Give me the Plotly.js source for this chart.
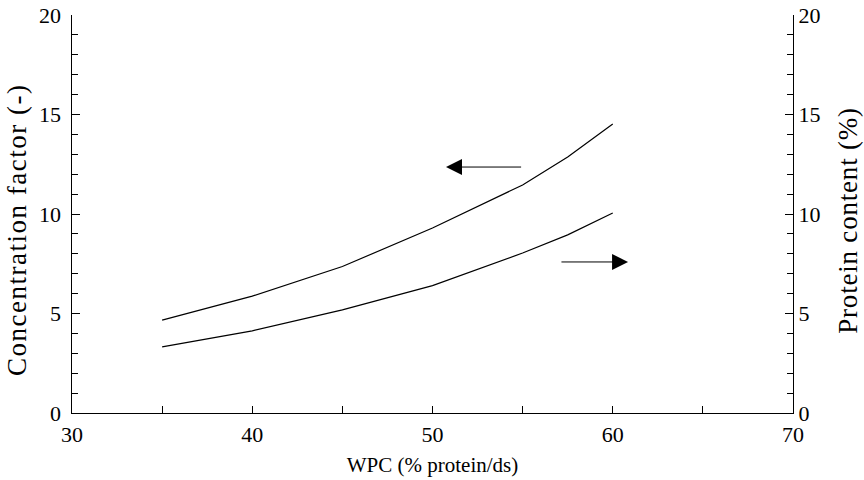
<!DOCTYPE html>
<html>
<head>
<meta charset="utf-8">
<script src="https://cdn.plot.ly/plotly-3.0.1.min.js"></script>
<style>
html,body{margin:0;padding:0;background:#fff;}
#chart{width:864px;height:480px;}
.annotation-text.ytitle-left{letter-spacing:1.5px;}
</style>
</head>
<body>
<div id="chart"></div>
<script>
// Data
const wpc = [35, 40, 45, 50, 55, 57.5, 60];               // WPC (% protein/ds)
const concentrationFactor = [4.67, 5.87, 7.36, 9.3, 11.46, 12.86, 14.52]; // left axis
const proteinContent = [3.32, 4.13, 5.18, 6.4, 8.04, 8.95, 10.05];        // right axis

// Arrow annotations (tail -> head), in data units
const arrowLeft = {tailX: 55, headX: 50.75, y: 12.36};
const arrowRight = {tailX: 57.07, headX: 60.85, y: 7.59};

const xTitle = "WPC (% protein/ds)";
const yTitle = "Concentration factor (-)";
const y2Title = "Protein content (%)";

const font = "Liberation Serif, Times New Roman, serif";

const traces = [
  {x: wpc, y: concentrationFactor, type: "scatter", mode: "lines",
   line: {color: "#000", width: 1.2}, yaxis: "y", showlegend: false, hoverinfo: "skip"},
  {x: wpc, y: proteinContent, type: "scatter", mode: "lines",
   line: {color: "#000", width: 1.2}, yaxis: "y2", showlegend: false, hoverinfo: "skip"}
];

function arrow(a) {
  return {x: a.headX, y: a.y, ax: a.tailX, ay: a.y, xref: "x", yref: "y",
    axref: "x", ayref: "y", text: "", showarrow: true, arrowhead: 2,
    arrowsize: 3.2, arrowwidth: 1, arrowcolor: "#000"};
}

const layout = {
  width: 864, height: 480,
  margin: {l: 72, r: 71, t: 15, b: 67},
  paper_bgcolor: "#fff", plot_bgcolor: "#fff",
  font: {family: font, color: "#000", size: 22},
  xaxis: {
    range: [30, 70], dtick: 10, tick0: 30,
    ticks: "inside", ticklen: 7, tickcolor: "#000", tickwidth: 1,
    minor: {dtick: 5, ticks: "inside", ticklen: 7, tickcolor: "#000"},
    showline: true, linecolor: "#000", linewidth: 1,
    showgrid: false, zeroline: false,
    tickfont: {family: font, size: 22}, ticklabelstandoff: 2,
    title: {text: xTitle, font: {family: font, size: 21}, standoff: 10}
  },
  yaxis: {
    range: [0, 20], dtick: 5, tick0: 0,
    ticks: "inside", ticklen: 8, tickcolor: "#000", tickwidth: 1,
    minor: {dtick: 1, ticks: "inside", ticklen: 6, tickcolor: "#000"},
    showline: true, linecolor: "#000", linewidth: 1,
    showgrid: false, zeroline: false,
    tickfont: {family: font, size: 22}, ticksuffix: "\u00a0"
  },
  yaxis2: {
    range: [0, 20], dtick: 5, tick0: 0, overlaying: "y", side: "right",
    ticks: "inside", ticklen: 8, tickcolor: "#000", tickwidth: 1,
    minor: {dtick: 1, ticks: "inside", ticklen: 6, tickcolor: "#000"},
    showline: true, linecolor: "#000", linewidth: 1,
    showgrid: false, zeroline: false,
    tickfont: {family: font, size: 22}
  },
  annotations: [
    arrow(arrowLeft), arrow(arrowRight),
    {text: yTitle, textangle: -90, xref: "paper", yref: "paper",
     x: -0.0763, y: 0.46, xanchor: "center", yanchor: "middle", showarrow: false,
     font: {family: font, size: 27}},
    {text: y2Title, textangle: -90, xref: "paper", yref: "paper",
     x: 1.0763, y: 0.482, xanchor: "center", yanchor: "middle", showarrow: false,
     font: {family: font, size: 27}}
  ]
};

Plotly.newPlot("chart", traces, layout, {staticPlot: true, displayModeBar: false}).then(function () {
  var texts = document.querySelectorAll(".annotation-text");
  texts.forEach(function (t) {
    if (t.textContent === yTitle) t.style.letterSpacing = "1.5px";
    if (t.textContent === y2Title) t.style.letterSpacing = "0.8px";
  });
});
</script>
</body>
</html>
